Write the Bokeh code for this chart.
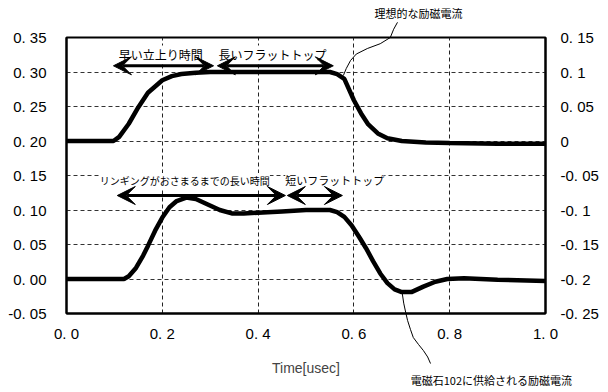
from bokeh.plotting import figure
from bokeh.models import Range1d, LinearAxis, FixedTicker, Label, Arrow, VeeHead
from bokeh.core.properties import value
from bokeh.embed import file_html
from bokeh.resources import INLINE

# ---- data ----
t_ideal = [0, 0.098, 0.11, 0.13, 0.15, 0.17, 0.2, 0.22, 0.24, 0.27, 0.3, 0.4, 0.5, 0.55,
           0.565, 0.58, 0.6, 0.615, 0.63, 0.65, 0.67, 0.7, 0.75, 0.8, 0.9, 1.0]
ideal = [0, 0, 0.006, 0.025, 0.049, 0.07, 0.088, 0.094, 0.097, 0.099, 0.1, 0.1, 0.1, 0.1,
         0.097, 0.09, 0.059, 0.04, 0.024, 0.011, 0.004, 0.0, -0.002, -0.003, -0.004, -0.004]

t_real = [0, 0.12, 0.13, 0.145, 0.16, 0.17, 0.185, 0.2, 0.215, 0.23, 0.25, 0.27, 0.295, 0.32,
          0.345, 0.37, 0.4, 0.45, 0.5, 0.55, 0.565, 0.58, 0.595, 0.61, 0.625, 0.64, 0.655,
          0.67, 0.685, 0.7, 0.72, 0.745, 0.77, 0.795, 0.83, 0.9, 1.0]
real = [0, 0, 0.004, 0.016, 0.034, 0.048, 0.07, 0.089, 0.104, 0.113, 0.118, 0.116, 0.108, 0.1,
        0.095, 0.095, 0.096, 0.098, 0.1, 0.1, 0.097, 0.09, 0.078, 0.062, 0.045, 0.026, 0.008,
        -0.006, -0.015, -0.019, -0.019, -0.011, -0.004, 0.0, 0.001, -0.001, -0.003]

x_ticks = [0.0, 0.2, 0.4, 0.6, 0.8, 1.0]
x_labels = ["0. 0", "0. 2", "0. 4", "0. 6", "0. 8", "1. 0"]
left_ticks = [-0.05, 0.0, 0.05, 0.1, 0.15, 0.2, 0.25, 0.3, 0.35]
left_labels = ["-0. 05", "0. 00", "0. 05", "0. 10", "0. 15", "0. 20", "0. 25", "0. 30", "0. 35"]
right_ticks = [-0.25, -0.2, -0.15, -0.1, -0.05, 0.0, 0.05, 0.1, 0.15]
right_labels = ["-0. 25", "-0. 2", "-0. 15", "-0. 1", "-0. 05", "0", "0. 05", "0. 1", "0. 15"]

# annotations
span_texts = ["早い立上り時間", "長いフラットトップ", "リンギングがおさまるまでの長い時間", "短いフラットトップ"]
span_text_x = [0.197, 0.43, 0.247, 0.56]
span_text_y = [0.326, 0.326, 0.1428, 0.1428]
span_text_size = ["12px", "12px", "10px", "11px"]
arrow_x0 = [0.098, 0.315, 0.106, 0.461]
arrow_x1 = [0.307, 0.557, 0.457, 0.576]
arrow_y = [0.309, 0.309, 0.121, 0.121]

lead1_x = [0.691, 0.683, 0.676, 0.655, 0.628, 0.605, 0.593, 0.584, 0.578]
lead1_y = [0.372, 0.362, 0.35, 0.341, 0.334, 0.326, 0.3167, 0.305, 0.2949]
lead2_x = [0.701, 0.704, 0.708, 0.712, 0.718, 0.724, 0.735, 0.745, 0.754, 0.760]
lead2_y = [-0.021, -0.035, -0.048, -0.060, -0.073, -0.0848, -0.095, -0.1036, -0.113, -0.1225]
lead_texts = ["理想的な励磁電流", "電磁石102に供給される励磁電流"]
lead_text_x = [0.735, 0.887]
lead_text_y = [0.3848, -0.146]

JP = "Noto Sans CJK JP"
NUM = "Liberation Sans"

p = figure(frame_width=479, frame_height=276, x_range=Range1d(0, 1), y_range=Range1d(-0.05, 0.35),
           output_backend="svg", toolbar_location=None,
           min_border_left=66, min_border_right=47, min_border_top=37, min_border_bottom=76)
p.extra_y_ranges = {"right": Range1d(-0.25, 0.15)}
p.background_fill_color = "white"
p.outline_line_color = "black"
p.outline_line_width = 2

p.xaxis.ticker = FixedTicker(ticks=x_ticks)
p.xaxis.major_label_overrides = {t: l for t, l in zip(x_ticks, x_labels)}
p.yaxis.ticker = FixedTicker(ticks=left_ticks)
p.yaxis.major_label_overrides = {t: l for t, l in zip(left_ticks, left_labels)}

ax_r = LinearAxis(y_range_name="right", ticker=FixedTicker(ticks=right_ticks))
ax_r.major_label_overrides = {t: l for t, l in zip(right_ticks, right_labels)}
p.add_layout(ax_r, "right")

for ax in [p.xaxis[0], p.yaxis[0], ax_r]:
    ax.axis_line_color = "black"
    ax.axis_line_width = 2
    ax.major_tick_line_color = None
    ax.minor_tick_line_color = None
    ax.major_tick_out = 0
    ax.major_tick_in = 0
    ax.major_label_text_font = NUM
    ax.major_label_text_font_size = "15px"
    ax.major_label_text_color = "black"
p.yaxis[0].major_label_standoff = 20
ax_r.major_label_standoff = 15
p.xaxis[0].major_label_standoff = 11
p.xaxis[0].axis_label = "Time[usec]"
p.xaxis[0].axis_label_text_font = NUM
p.xaxis[0].axis_label_text_font_size = "14px"
p.xaxis[0].axis_label_text_font_style = "normal"
p.xaxis[0].axis_label_standoff = 15

p.xgrid.grid_line_color = "#222222"
p.xgrid.grid_line_dash = "4 3"
p.xgrid.grid_line_width = 1
p.ygrid.grid_line_color = "#333333"
p.ygrid.grid_line_dash = "4 3"
p.ygrid.grid_line_width = 1

p.line(t_ideal, ideal, y_range_name="right", line_color="black", line_width=4.5)
p.line(t_real, real, line_color="black", line_width=4.5)

for txt, x, y, fs in zip(span_texts, span_text_x, span_text_y, span_text_size):
    p.add_layout(Label(x=x, y=y, text=txt, text_align="center", text_baseline="middle",
                       text_font=JP, text_font_size=fs, text_color="black",
                       background_fill_color="white"))
for x0, x1, y in zip(arrow_x0, arrow_x1, arrow_y):
    p.add_layout(Arrow(x_start=x0, y_start=y, x_end=x1, y_end=y, line_width=3, line_color="black",
                       start=VeeHead(size=18, fill_color="black", line_color="black"),
                       end=VeeHead(size=18, fill_color="black", line_color="black")))

p.line(lead1_x, lead1_y, line_color="black", line_width=1, level="overlay")
p.line(lead2_x, lead2_y, line_color="black", line_width=1, level="overlay")
p.text(x=lead_text_x, y=lead_text_y, text=lead_texts, text_align="center", text_baseline="middle",
       text_font=value(JP), text_font_size="11px", text_color="black", level="overlay")

open("out.html", "w").write(file_html(p, INLINE))
